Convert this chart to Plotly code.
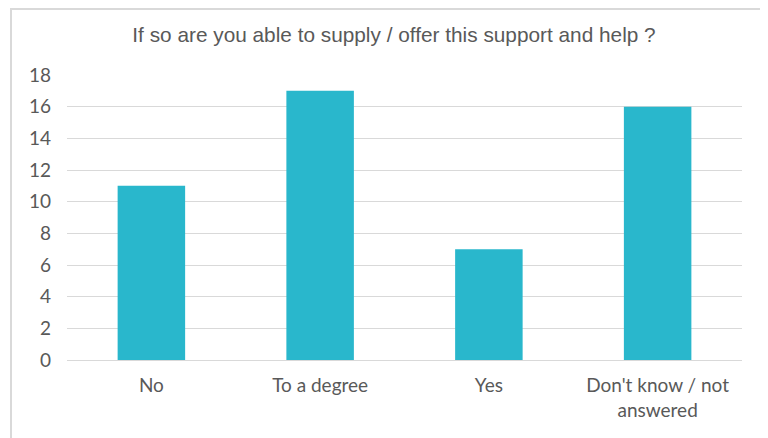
import plotly.graph_objects as go

categories = ["No", "To a degree", "Yes", "Don't know / not<br>answered"]
values = [11, 17, 7, 16]
y_ticks = [0, 2, 4, 6, 8, 10, 12, 14, 16, 18]
title_text = "If so are you able to supply / offer this support and help ?"

# page offset of the figure inside the browser window (body margin)
OFF = 8
W, H = 768 - OFF, 438 - OFF
L, R, T, B = 67 - OFF, W - (742 - OFF), 75 - OFF, H - (360 - OFF)
pw, ph = W - L - R, H - T - B

def px_x(x):
    return (x - OFF - L) / pw

def px_y(y):
    return (H - B - (y - OFF)) / ph

TXT = "#595959"
fig = go.Figure(go.Bar(
    x=categories, y=values,
    marker=dict(color="#29B7CC", line=dict(width=0)),
))

fig.update_layout(
    width=W, height=H,
    margin=dict(l=L, r=R, t=T, b=B),
    paper_bgcolor="white", plot_bgcolor="white",
    bargap=0.6,
    showlegend=False,
    title=dict(text=title_text, x=(394 - OFF) / W, xanchor="center",
               y=1 - (35 - OFF) / H, yanchor="middle",
               font=dict(family="Liberation Sans, Arial, sans-serif", size=20.8, color=TXT)),
    font=dict(family="Lato, sans-serif", size=19, color=TXT),
    xaxis=dict(showgrid=False, showline=True, linecolor="#D9D9D9", linewidth=1,
               ticks="", ticklabelstandoff=8, tickfont=dict(size=19, color=TXT)),
    yaxis=dict(range=[0, 18], tickvals=y_ticks, showgrid=True, gridcolor="#D9D9D9", gridwidth=1,
               zeroline=False, showline=False, ticks="", ticklabelstandoff=15,
               tickfont=dict(size=19, color=TXT)),
    shapes=[dict(type="rect", xref="paper", yref="paper",
                 x0=px_x(11), x1=px_x(765), y0=px_y(446), y1=px_y(9),
                 line=dict(color="#D9D9D9", width=2), fillcolor="rgba(0,0,0,0)", layer="below")],
)

fig.write_html("out.html")
